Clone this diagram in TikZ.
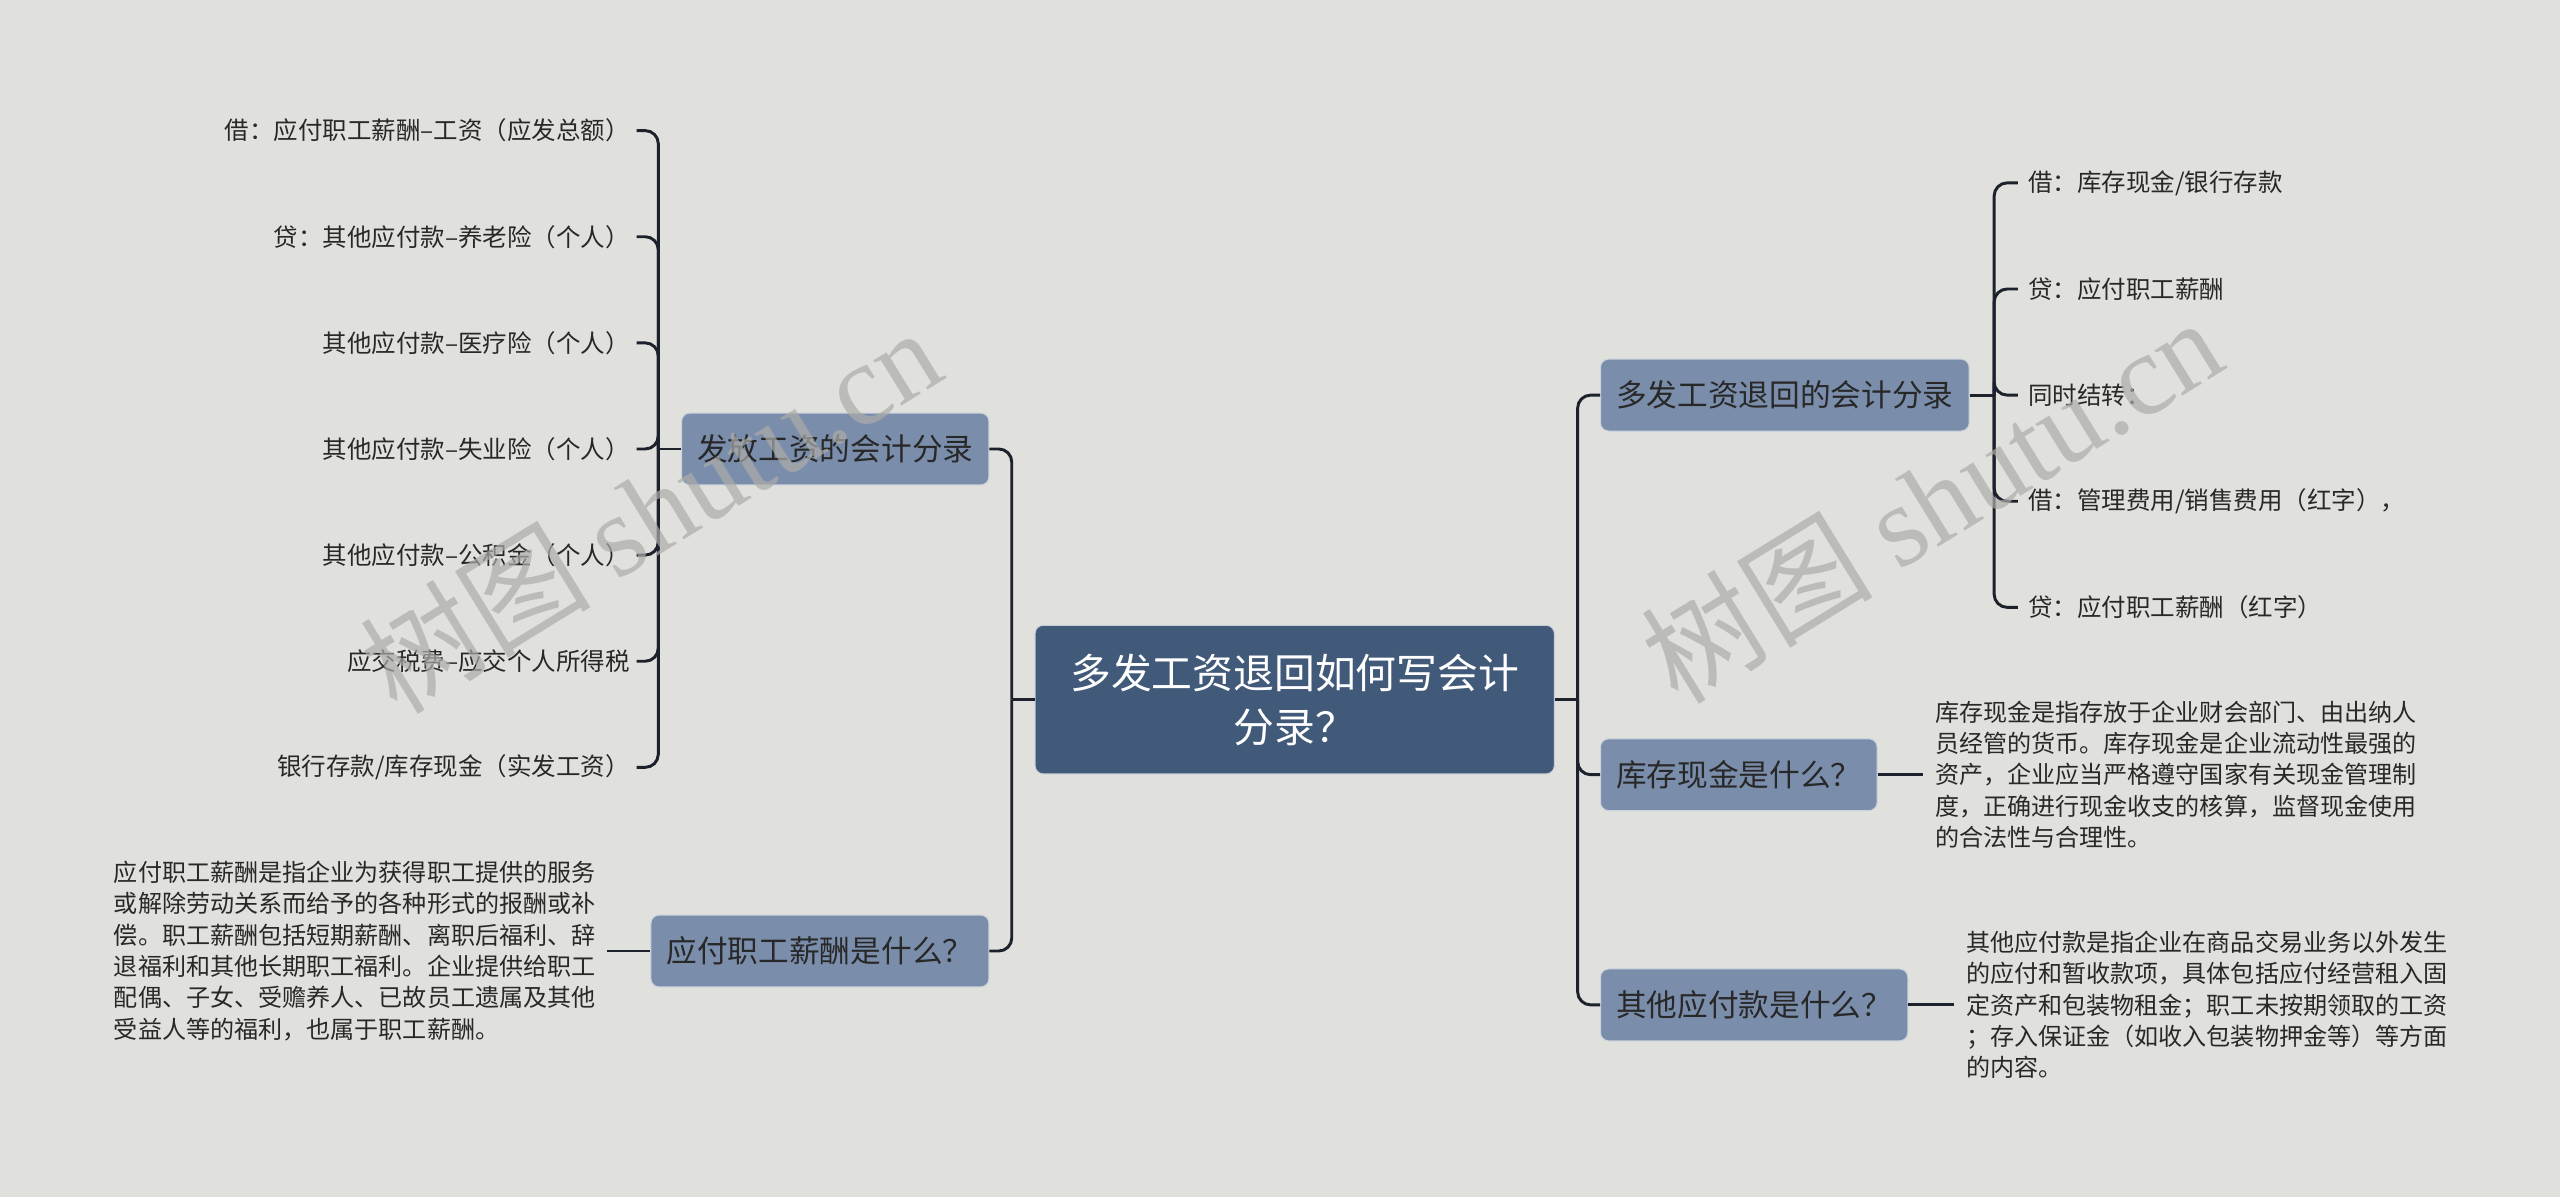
\documentclass[tikz,border=0pt]{standalone}
\usepackage{fontspec}
\setmainfont{Noto Sans CJK SC}
\newfontfamily\wmlatin{Liberation Serif}
\definecolor{bg}{RGB}{224,225,221}
\definecolor{rootc}{RGB}{66,90,122}
\definecolor{boxc}{RGB}{122,142,172}
\definecolor{linec}{RGB}{28,33,44}
\definecolor{txt}{RGB}{40,40,40}
\definecolor{wm}{RGB}{172,172,169}
\begin{document}
\begin{tikzpicture}[x=1pt,y=-1pt,
  conn/.style={draw=linec,line width=1.8pt,rounded corners=8pt},
  rootbox/.style={fill=rootc,draw=white!70!rootc,line width=0.6pt,rounded corners=5pt,text=white,
    font=\fontsize{25}{33}\selectfont,align=center,minimum width=318pt,minimum height=91pt,inner sep=0pt},
  topic/.style={fill=boxc,draw=white!60!boxc,line width=0.6pt,rounded corners=5pt,text=txt,
    font=\fontsize{18.8}{22}\selectfont,inner xsep=9.5pt,inner ysep=0pt,minimum height=44pt},
  leaf/.style={text=txt,font=\fontsize{15}{18}\selectfont,inner ysep=0pt},
  para/.style={text=txt,font=\fontsize{14.75}{19.2}\selectfont,align=left,inner ysep=0pt,inner xsep=7pt},
  wmark/.style={text=wm,opacity=0.7,font=\fontsize{71}{75}\selectfont,inner sep=0pt}]
\fill[bg] (0,0) rectangle (1568,733);
\useasboundingbox (0,0) rectangle (1568,733);

% root
\node[rootbox] (root) at (793,428.5) {多发工资退回如何写会计\\分录？};

% topics
\node[topic,anchor=east] (L1) at (606,275) {发放工资的会计分录};
\node[topic,anchor=east] (L2) at (606,582.5) {应付职工薪酬是什么？};
\node[topic,anchor=west] (R1) at (980,242) {多发工资退回的会计分录};
\node[topic,anchor=west] (R2) at (980,474.5) {库存现金是什么？};
\node[topic,anchor=west] (R3) at (980,615.5) {其他应付款是什么？};

% spine coordinates
\coordinate (sRL) at ([xshift=-14pt]root.west);
\coordinate (sRR) at ([xshift=14pt]root.east);
\coordinate (sL1) at ([xshift=-14pt]L1.west);
\coordinate (sR1) at ([xshift=15pt]R1.east);

% root connectors
\draw[conn] (sRL) -- (root.west);
\draw[conn] (L1.east) -| (sRL);
\draw[conn] (L2.east) -| (sRL);
\draw[conn] (sRR) -- (root.east);
\draw[conn] (R1.west) -| (sRR);
\draw[conn] (R2.west) -| (sRR);
\draw[conn] (R3.west) -| (sRR);

% left leaves
\node[leaf,anchor=east,inner xsep=4pt] (a1) at (390,80) {借：应付职工薪酬–工资（应发总额）};
\node[leaf,anchor=east,inner xsep=4pt] (a2) at (390,145) {贷：其他应付款–养老险（个人）};
\node[leaf,anchor=east,inner xsep=4pt] (a3) at (390,210) {其他应付款–医疗险（个人）};
\node[leaf,anchor=east,inner xsep=4pt] (a4) at (390,275) {其他应付款–失业险（个人）};
\node[leaf,anchor=east,inner xsep=4pt] (a5) at (390,340) {其他应付款–公积金（个人）};
\node[leaf,anchor=east,inner xsep=4pt] (a6) at (390,405) {应交税费–应交个人所得税};
\node[leaf,anchor=east,inner xsep=4pt] (a7) at (390,470) {银行存款/库存现金（实发工资）};
\draw[conn] (sL1) -- (L1.west);
\foreach \n in {a1,a2,a3,a4,a5,a6,a7} {\draw[conn] (\n.east) -| (sL1);}

% right leaves
\node[leaf,anchor=west,inner xsep=6pt] (b1) at (1236,112) {借：库存现金/银行存款};
\node[leaf,anchor=west,inner xsep=6pt] (b2) at (1236,177) {贷：应付职工薪酬};
\node[leaf,anchor=west,inner xsep=6pt] (b3) at (1236,242) {同时结转：};
\node[leaf,anchor=west,inner xsep=6pt] (b4) at (1236,307) {借：管理费用/销售费用（红字），};
\node[leaf,anchor=west,inner xsep=6pt] (b5) at (1236,372) {贷：应付职工薪酬（红字）};
\draw[conn] (R1.east) -- (sR1);
\foreach \n in {b1,b2,b3,b4,b5} {\draw[conn] (\n.west) -| (sR1);}

% paragraphs
\node[para,anchor=east] (pL) at (372,582.5) {应付职工薪酬是指企业为获得职工提供的服务\\或解除劳动关系而给予的各种形式的报酬或补\\偿。职工薪酬包括短期薪酬、离职后福利、辞\\退福利和其他长期职工福利。企业提供给职工\\配偶、子女、受赡养人、已故员工遗属及其他\\受益人等的福利，也属于职工薪酬。};
\draw[conn] (pL.east) -- (L2.west);

\node[para,anchor=west] (pR2) at (1178,474.5) {库存现金是指存放于企业财会部门、由出纳人\\员经管的货币。库存现金是企业流动性最强的\\资产，企业应当严格遵守国家有关现金管理制\\度，正确进行现金收支的核算，监督现金使用\\的合法性与合理性。};
\draw[conn] (R2.east) -- (pR2.west);

\node[para,anchor=west] (pR3) at (1197,615.5) {其他应付款是指企业在商品交易业务以外发生\\的应付和暂收款项，具体包括应付经营租入固\\定资产和包装物租金；职工未按期领取的工资\\；存入保证金（如收入包装物押金等）等方面\\的内容。};
\draw[conn] (R3.east) -- (pR3.west);

% watermarks
\node[wmark,rotate=31.6] (w1) at (398,312) {树图 {\wmlatin shutu.cn}};
\node[wmark,rotate=31.6] (w2) at (1183,306) {树图 {\wmlatin shutu.cn}};
\end{tikzpicture}
\end{document}
